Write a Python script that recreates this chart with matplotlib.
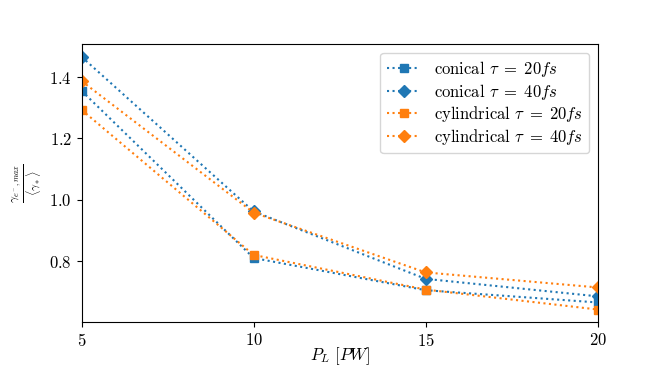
import matplotlib
matplotlib.use("Agg")
import matplotlib.pyplot as plt

plt.rcParams["font.family"] = "serif"
plt.rcParams["font.serif"] = ["cmr10"]
plt.rcParams["mathtext.fontset"] = "cm"
plt.rcParams["axes.formatter.use_mathtext"] = True
plt.rcParams["font.size"] = 12

power = [5, 10, 15, 20]
conical_20 = [1.355, 0.81, 0.705, 0.665]
conical_40 = [1.466, 0.962, 0.742, 0.685]
cyl_20 = [1.293, 0.82, 0.707, 0.642]
cyl_40 = [1.387, 0.958, 0.763, 0.714]

fig, ax = plt.subplots(figsize=(6.64, 3.69), dpi=100)
fig.subplots_adjust(left=0.123, right=0.9, top=0.88, bottom=0.127)
ax.plot(power, conical_20, ":s", color="C0", label=r"conical $\tau\;=\;20fs$")
ax.plot(power, conical_40, ":D", color="C0", label=r"conical $\tau\;=\;40fs$")
ax.plot(power, cyl_20, ":s", color="C1", label=r"cylindrical $\tau\;=\;20fs$")
ax.plot(power, cyl_40, ":D", color="C1", label=r"cylindrical $\tau\;=\;40fs$")
ax.set_xlim(5, 20)
ax.set_xticks(power)
ax.set_yticks([0.8, 1.0, 1.2, 1.4])
ax.set_xlabel(r"$P_L\ [PW]$")
ax.xaxis.set_label_coords(0.5, -0.085)
ax.set_ylabel(r"$\frac{\gamma_{e^-,max}}{\langle\gamma_*\rangle}$")
ax.yaxis.set_label_coords(-0.075, 0.5)
ax.legend(loc="upper right", labelspacing=0.15, handlelength=2.0)
fig.savefig("out.png", dpi=100)
